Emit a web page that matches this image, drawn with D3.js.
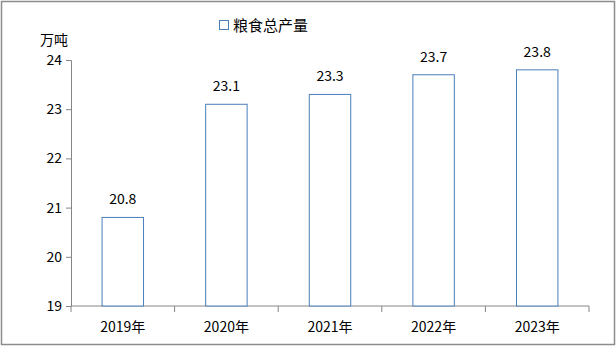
<!DOCTYPE html>
<html>
<head>
<meta charset="utf-8">
<script src="https://cdn.jsdelivr.net/npm/d3@7"></script>
<style>
  body { margin: 0; background: #fff; }
  text { font-family: "Noto Sans CJK SC", "Noto Sans", sans-serif; fill: #000; }
</style>
</head>
<body>
<script>
const years = ["2019年", "2020年", "2021年", "2022年", "2023年"]
const output = [20.8, 23.1, 23.3, 23.7, 23.8]
const yTicks = [19, 20, 21, 22, 23, 24]

const W = 616, H = 346
const margin = ({top: 60, right: 27, bottom: 40, left: 71})
const width = W - margin.left - margin.right
const height = H - margin.top - margin.bottom

const svg = d3.select("body").append("svg")
  .attr("width", W)
  .attr("height", H)

// outer frame
svg.append("rect")
  .attr("x", 1.5).attr("y", 1.5)
  .attr("width", W - 3).attr("height", H - 3)
  .attr("fill", "none")
  .attr("stroke", "#8c8c8c")
  .attr("stroke-width", 1.5)

const g = svg.append("g")
  .attr("transform", `translate(${margin.left},${margin.top})`)

const x = d3.scaleBand()
  .domain(years)
  .range([0, width])
  .paddingInner(0.6)
  .paddingOuter(0.3)

const y = d3.scaleLinear()
  .domain([19, 24])
  .range([height, 0])

// y axis
const yAxis = g.append("g")
  .call(d3.axisLeft(y).tickValues(yTicks).tickFormat(d3.format("d")).tickSize(5).tickPadding(4))
yAxis.select(".domain").attr("stroke", "#868686")
yAxis.selectAll(".tick line").attr("stroke", "#868686")
yAxis.selectAll("text").style("font-size", "14px")

// x axis with ticks at band boundaries
const xAxis = g.append("g")
  .attr("transform", `translate(0,${height})`)
xAxis.append("line")
  .attr("x1", 0).attr("x2", width)
  .attr("stroke", "#868686")
const bounds = d3.range(years.length + 1).map(i => i * width / years.length)
xAxis.selectAll(".xt").data(bounds).join("line")
  .attr("x1", d => d).attr("x2", d => d)
  .attr("y1", 0).attr("y2", 6)
  .attr("stroke", "#868686")
xAxis.selectAll(".xl").data(years).join("text")
  .attr("x", d => x(d) + x.bandwidth() / 2)
  .attr("y", 26)
  .attr("text-anchor", "middle")
  .style("font-size", "14px")
  .text(d => d)

// bars
g.selectAll(".bar").data(output).join("rect")
  .attr("x", (d, i) => x(years[i]))
  .attr("y", d => y(d))
  .attr("width", x.bandwidth())
  .attr("height", d => height - y(d))
  .attr("fill", "#fff")
  .attr("stroke", "#4a7ebb")
  .attr("stroke-width", 1)

// value labels
g.selectAll(".val").data(output).join("text")
  .attr("x", (d, i) => x(years[i]) + x.bandwidth() / 2)
  .attr("y", d => y(d) - 13)
  .attr("text-anchor", "middle")
  .style("font-size", "14px")
  .text(d => d.toFixed(1))

// unit
svg.append("text")
  .attr("x", 40).attr("y", 45)
  .style("font-size", "14px")
  .text("万吨")

// legend
svg.append("rect")
  .attr("x", 219.5).attr("y", 20.5)
  .attr("width", 9).attr("height", 9)
  .attr("fill", "#fff")
  .attr("stroke", "#4a7ebb")
svg.append("text")
  .attr("x", 233).attr("y", 31)
  .style("font-size", "15px")
  .text("粮食总产量")
</script>
</body>
</html>
